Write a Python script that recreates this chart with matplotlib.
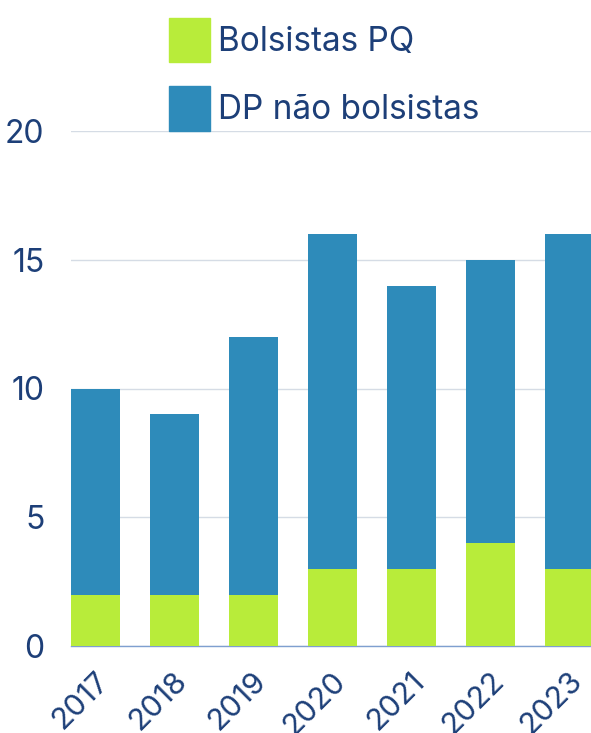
import matplotlib
matplotlib.use("Agg")
import matplotlib.pyplot as plt
from matplotlib.patches import Patch
import matplotlib.transforms as mtransforms
import numpy as np

anos = ["2017", "2018", "2019", "2020", "2021", "2022", "2023"]
bolsistas_pq = [2, 2, 2, 3, 3, 4, 3]
dp_nao_bolsistas = [8, 7, 10, 13, 11, 11, 13]
y_ticks = [0, 5, 10, 15, 20]

verde = "#b8ec3a"
azul = "#2e8bba"
texto = "#1d3f78"

plt.rcParams["font.family"] = ["Inter", "DejaVu Sans"]

fig = plt.figure(figsize=(5.91, 7.33), dpi=100)
ax = fig.add_axes([71 / 591, 87 / 733, 520 / 591, 515 / 733])

x = np.arange(len(anos))
ax.bar(x, bolsistas_pq, width=0.62, color=verde, zorder=3)
ax.bar(x, dp_nao_bolsistas, width=0.62, bottom=bolsistas_pq, color=azul, zorder=3)

ax.set_xlim(-0.31, 6.27)
ax.set_ylim(0, 20)
ax.set_yticks(y_ticks)
ax.set_xticks(x)
ax.set_xticklabels(anos, rotation=45, ha="right", va="center", rotation_mode="anchor")
ax.tick_params(axis="y", length=0, pad=19, labelsize=23, labelcolor=texto)
ax.tick_params(axis="x", length=0, pad=22, labelsize=22, labelcolor=texto)
offset = mtransforms.ScaledTranslation(9 / 100, 0, fig.dpi_scale_trans)
for lbl in ax.get_xticklabels():
    lbl.set_transform(lbl.get_transform() + offset)

ax.grid(axis="y", color="#d5dce5", linewidth=1, zorder=0)
for s in ["top", "right", "left"]:
    ax.spines[s].set_visible(False)
ax.spines["bottom"].set_color("#7f9fd0")
ax.spines["bottom"].set_linewidth(1)

handles = [Patch(color=verde, label="Bolsistas PQ"),
           Patch(color=azul, label="DP não bolsistas")]
fig.legend(handles=handles, loc="upper left", bbox_to_anchor=(139 / 591, 1 + 12 / 733),
           frameon=False, fontsize=24, labelcolor=texto,
           handlelength=1.23, handleheight=1.67, handletextpad=0.24, labelspacing=0.72)

fig.savefig("out.png", dpi=100)
